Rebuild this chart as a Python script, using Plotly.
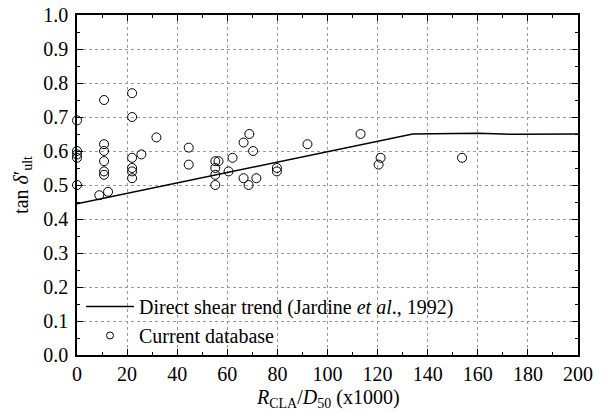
import plotly.graph_objects as go

# Current database points
db_x = [0, 0, 0, 0, 0,
        10.8, 10.8, 10.8, 10.8, 10.8, 10.8, 8.9, 12.4,
        22, 22, 22, 22, 22, 22, 25.7, 31.7, 44.6, 44.6,
        55.2, 55.2, 55.2, 55.2, 56.5,
        60.5, 62.1, 66.5, 68.8, 70.3, 66.5, 68.5, 71.6,
        79.8, 79.8, 92, 113.2, 121.2, 120.4, 153.7]
db_y = [0.69, 0.60, 0.59, 0.58, 0.50,
        0.75, 0.62, 0.60, 0.57, 0.54, 0.53, 0.47, 0.48,
        0.77, 0.70, 0.58, 0.55, 0.54, 0.52, 0.59, 0.64, 0.61, 0.56,
        0.57, 0.55, 0.53, 0.50, 0.57,
        0.54, 0.58, 0.625, 0.65, 0.60, 0.52, 0.50, 0.52,
        0.55, 0.54, 0.62, 0.65, 0.58, 0.56, 0.58]

# Direct shear trend (Jardine et al., 1992)
trend_x = [0, 134, 160, 175, 200]
trend_y = [0.445, 0.65, 0.652, 0.649, 0.65]

x_ticks = [0, 20, 40, 60, 80, 100, 120, 140, 160, 180, 200]
y_ticks = [0.0, 0.1, 0.2, 0.3, 0.4, 0.5, 0.6, 0.7, 0.8, 0.9, 1.0]

font_family = "Liberation Serif"

fig = go.Figure()
fig.add_trace(go.Scatter(
    x=trend_x, y=trend_y, mode="lines",
    line=dict(color="black", width=1.5),
    name="Direct shear trend (Jardine <i>et al</i>., 1992)",
))
fig.add_trace(go.Scatter(
    x=db_x, y=db_y, mode="markers", cliponaxis=False,
    marker=dict(symbol="circle-open", size=9, color="black", line=dict(width=1)),
    name="Current database", showlegend=False,
))
# legend entry with the smaller symbol shown in the reference legend
fig.add_trace(go.Scatter(
    x=[None], y=[None], mode="markers",
    marker=dict(symbol="circle-open", size=7, color="black", line=dict(width=1)),
    name="Current database",
))

axis_common = dict(
    showline=True, linecolor="black", linewidth=1.5, mirror="ticks",
    ticks="inside", ticklen=6, tickwidth=1.2, tickcolor="black",
    showgrid=True, gridcolor="#9a9a9a", griddash="dot", gridwidth=1,
    zeroline=False, automargin=False, ticklabeloverflow="allow",
    tickfont=dict(family=font_family, size=20, color="black"),
)

fig.update_xaxes(
    range=[0, 200], tickmode="array", tickvals=x_ticks,
    ticktext=[str(v) for v in x_ticks],
    minor=dict(ticks="inside", dtick=10, ticklen=3, tickcolor="black", showgrid=False),
    **axis_common,
)
fig.update_yaxes(
    range=[0, 1.0], tickmode="array", tickvals=y_ticks,
    ticktext=[f"{v:.1f}" for v in y_ticks],
    minor=dict(ticks="inside", dtick=0.05, ticklen=3, tickcolor="black", showgrid=False),
    ticklabelstandoff=3,
    **axis_common,
)

# axis titles placed as annotations to match the reference positions
fig.add_annotation(
    text="<i>R</i><sub>CLA</sub>/<i>D</i><sub>50</sub> (x1000)",
    xref="paper", yref="paper", x=0.5, y=-0.128, xanchor="center", yanchor="middle",
    showarrow=False, font=dict(family=font_family, size=20, color="black"),
)
fig.add_annotation(
    text="tan <i>δ</i>′<sub>ult</sub>",
    xref="paper", yref="paper", x=-0.11, y=0.5, xanchor="center", yanchor="middle",
    textangle=-90, showarrow=False, font=dict(family=font_family, size=20, color="black"),
)

fig.update_layout(
    width=600, height=405,
    margin=dict(l=69, r=30, t=7, b=58),
    paper_bgcolor="white", plot_bgcolor="white",
    font=dict(family=font_family, size=20, color="black"),
    showlegend=True,
    legend=dict(x=0.008, y=0.0, xanchor="left", yanchor="bottom",
                bgcolor="rgba(0,0,0,0)", font=dict(family=font_family, size=20),
                tracegroupgap=0, itemwidth=48),
)

fig.write_html("out.html")
